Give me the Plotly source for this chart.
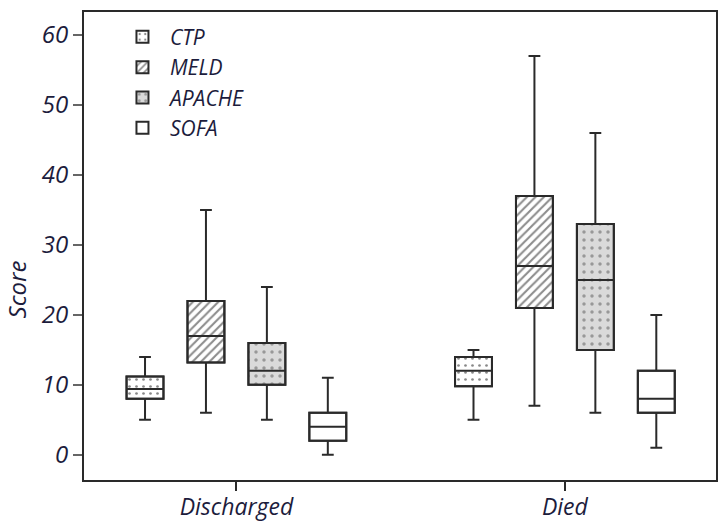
import plotly.graph_objects as go

# Outcome groups on the x axis
groups = ["Discharged", "Died"]

# Severity scores and their box statistics per outcome group
scores = ["CTP", "MELD", "APACHE", "SOFA"]
q1 = {"CTP": [8, 9.8], "MELD": [13.2, 21], "APACHE": [10, 15], "SOFA": [2, 6]}
median = {"CTP": [9.4, 12], "MELD": [17, 27], "APACHE": [12, 25], "SOFA": [4, 8]}
q3 = {"CTP": [11.2, 14], "MELD": [22, 37], "APACHE": [16, 33], "SOFA": [6, 12]}
lower = {"CTP": [5, 5], "MELD": [6, 7], "APACHE": [5, 6], "SOFA": [0, 1]}
upper = {"CTP": [14, 15], "MELD": [35, 57], "APACHE": [24, 46], "SOFA": [11, 20]}

y_ticks = [0, 10, 20, 30, 40, 50, 60]

# Fill pattern of each score's box
patterns = {
    "CTP": dict(shape=".", fgcolor="#111111", bgcolor="white", size=7, solidity=0.12),
    "MELD": dict(shape="/", fgcolor="#1a1a1a", bgcolor="white", size=6, solidity=0.35),
    "APACHE": dict(shape=".", fgcolor="#555555", bgcolor="#dadada", size=8, solidity=0.15),
    "SOFA": dict(shape="", fgcolor="#222222", bgcolor="white"),
}

LINE = "#2a2a2a"
TEXT = "#1c1c3c"
FONT = "Open Sans"

fig = go.Figure()

# Patterned interquartile fills (bars from Q1 to Q3)
for s in scores:
    fig.add_trace(go.Bar(
        name=s, x=groups, base=q1[s],
        y=[b - a for a, b in zip(q1[s], q3[s])],
        marker=dict(color="white", pattern=patterns[s], line=dict(color=LINE, width=2)),
        hoverinfo="skip",
    ))

# Box outlines, medians and whiskers
for s in scores:
    fig.add_trace(go.Box(
        name=s, showlegend=False, x=groups,
        q1=q1[s], median=median[s], q3=q3[s],
        lowerfence=lower[s], upperfence=upper[s],
        fillcolor="rgba(0,0,0,0)", line=dict(color=LINE, width=2),
        whiskerwidth=0.32, boxpoints=False,
    ))

tick_font = dict(family=FONT, size=24, color=TEXT, style="italic", weight=500)
x_font = dict(family=FONT, size=23, color=TEXT, style="italic", weight=500)

fig.update_layout(
    width=719, height=525,
    margin=dict(l=84, r=3, t=12, b=45),
    paper_bgcolor="white", plot_bgcolor="white",
    barmode="group", bargap=0.258, bargroupgap=0.394,
    boxmode="group", boxgap=0.258, boxgroupgap=0.394,
    font=dict(family=FONT, size=21, color=TEXT, style="italic"),
    legend=dict(
        x=0.049, y=0.99, xanchor="left", yanchor="top",
        bgcolor="rgba(0,0,0,0)", itemwidth=45,
        font=dict(family=FONT, size=21, color=TEXT, style="italic", weight=500),
    ),
    xaxis=dict(
        type="category", range=[-0.464, 1.46], automargin=False,
        showline=True, linecolor=LINE, linewidth=2, mirror=True,
        ticks="outside", ticklen=9, tickwidth=2, tickcolor=LINE,
        ticklabelstandoff=-4,
        showgrid=False, zeroline=False, tickfont=x_font,
    ),
    yaxis=dict(
        range=[-3.6, 63.3], tickvals=y_ticks, automargin=False,
        showline=True, linecolor=LINE, linewidth=2, mirror=True,
        ticks="outside", ticklen=9, tickwidth=2, tickcolor="#666666",
        showgrid=False, zeroline=False, tickfont=tick_font,
    ),
    annotations=[dict(
        text="Score", textangle=-90, xref="paper", yref="paper",
        x=-0.107, y=0.408, xanchor="center", yanchor="middle", showarrow=False,
        font=tick_font,
    )],
)

fig.write_html("out.html")
